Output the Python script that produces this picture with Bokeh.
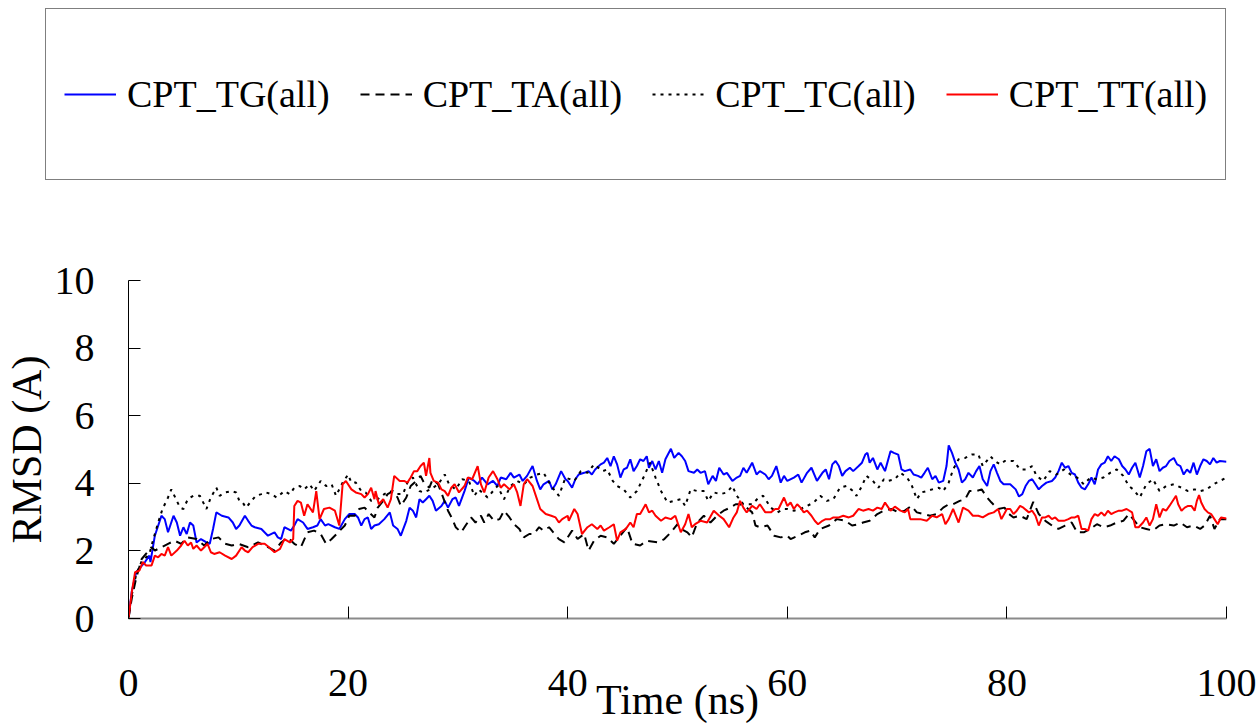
from bokeh.plotting import figure
from bokeh.models import Range1d, FixedTicker, Legend, LegendItem
from bokeh.layouts import column
from bokeh.embed import file_html
from bokeh.resources import INLINE

series_names = ["CPT_TG(all)", "CPT_TA(all)", "CPT_TC(all)", "CPT_TT(all)"]
x_ticks = [0, 20, 40, 60, 80, 100]
y_ticks = [0, 2, 4, 6, 8, 10]
x_title = "Time (ns)"
y_title = "RMSD (A)"

# (time in ns, RMSD in A)
tg_points = [
    (0, 0), (0.3, 0.8), (0.7, 1.37), (1.5, 1.67), (1.9, 1.86), (2.0, 1.67), (2.4, 2.45), (3.0, 3.04), (3.3, 2.94),
    (3.6, 2.55), (4.1, 3.04), (4.4, 2.84), (4.7, 2.45), (5.0, 2.70), (5.3, 2.50), (5.6, 2.84), (5.9, 2.75), (6.2, 2.25),
    (6.6, 2.35), (7.1, 2.25), (7.4, 2.21), (7.7, 2.65), (8.0, 3.14), (8.5, 3.04), (9.1, 2.99), (9.5, 2.84), (9.8, 2.65),
    (10.1, 2.75), (10.6, 3.04), (10.9, 2.89), (11.2, 2.75), (11.5, 2.70), (12.1, 2.65), (12.7, 2.45), (13.3, 2.55),
    (13.6, 2.40), (13.9, 2.35), (14.2, 2.70), (14.5, 2.65), (14.8, 2.60), (15.1, 2.75), (15.4, 2.94), (15.9, 2.84),
    (16.3, 2.65), (16.8, 2.70), (17.2, 2.75), (17.5, 2.94), (17.9, 2.75), (18.2, 2.79), (18.8, 2.70), (19.2, 2.65),
    (19.7, 2.94), (20.1, 3.09), (20.6, 3.09), (20.9, 2.99), (21.2, 2.75), (21.5, 2.94), (21.8, 2.99), (22.1, 2.65),
    (22.4, 2.75), (22.8, 2.79), (23.3, 2.94), (23.8, 3.14), (24.1, 2.75), (24.5, 2.65), (24.8, 2.45), (25.3, 2.89),
    (25.6, 3.28), (25.9, 3.19), (26.2, 2.99), (26.5, 3.53), (26.8, 3.43), (27.1, 3.53), (27.4, 3.63), (27.7, 3.48),
    (28.0, 3.19), (28.5, 3.33), (28.8, 3.48), (29.1, 3.28), (29.5, 3.53), (29.8, 3.58), (30.1, 3.33), (30.6, 3.77),
    (31.0, 4.17), (31.5, 4.07), (31.8, 3.97), (32.2, 4.17), (32.7, 3.97), (33.2, 4.07), (33.6, 3.92), (33.9, 4.17),
    (34.4, 4.12), (34.8, 4.31), (35.1, 4.17), (35.6, 4.26), (35.9, 4.07), (36.3, 4.22), (36.8, 4.51), (37.2, 4.07),
    (37.5, 3.82), (37.8, 3.97), (38.3, 4.07), (38.6, 3.82), (38.9, 3.97), (39.4, 4.36), (39.8, 4.12), (40.0, 4.07),
    (40.4, 3.87), (40.7, 4.12), (41.0, 4.26), (41.5, 4.31), (41.9, 4.36), (42.2, 4.26), (42.5, 4.41), (43.0, 4.56),
    (43.3, 4.61), (43.6, 4.75), (43.9, 4.51), (44.2, 4.80), (44.5, 4.56), (44.8, 4.17), (45.1, 4.41), (45.4, 4.46),
    (45.7, 4.71), (46.0, 4.36), (46.3, 4.51), (46.6, 4.71), (46.9, 4.66), (47.2, 4.80), (47.4, 4.46), (47.7, 4.66),
    (48.0, 4.41), (48.3, 4.66), (48.6, 4.31), (48.9, 4.71), (49.4, 5.02), (49.7, 4.75), (50.1, 4.90), (50.4, 4.80),
    (50.7, 4.66), (51.0, 4.36), (51.5, 4.31), (51.8, 4.41), (52.1, 4.31), (52.5, 4.36), (52.8, 3.97), (53.2, 4.22),
    (53.5, 4.07), (53.8, 4.46), (54.2, 4.26), (54.5, 4.31), (55.0, 4.07), (55.4, 4.17), (55.7, 4.22), (56.0, 4.46),
    (56.3, 4.31), (56.8, 4.61), (57.2, 4.26), (57.5, 4.36), (58.0, 4.26), (58.3, 4.12), (58.6, 4.22), (59.0, 4.51),
    (59.4, 4.02), (59.7, 4.22), (60.0, 4.07), (60.6, 4.17), (61.0, 4.26), (61.3, 4.02), (61.8, 4.31), (62.2, 4.46),
    (62.7, 4.07), (63.2, 4.31), (63.5, 4.41), (63.8, 4.12), (64.1, 4.56), (64.4, 4.66), (64.7, 4.51), (65.0, 4.22),
    (65.3, 4.36), (65.7, 4.46), (66.0, 4.36), (66.5, 4.51), (66.8, 4.61), (67.1, 4.85), (67.3, 4.90), (67.5, 4.61),
    (67.8, 4.75), (68.2, 4.41), (68.5, 4.61), (68.9, 4.36), (69.4, 4.95), (69.7, 4.90), (70.1, 4.85), (70.4, 4.41),
    (70.7, 4.36), (71.2, 4.41), (71.5, 4.26), (71.9, 4.22), (72.2, 4.17), (72.5, 4.31), (72.8, 4.46), (73.2, 4.12),
    (73.5, 4.22), (73.8, 4.02), (74.2, 4.07), (74.5, 4.51), (74.7, 5.12), (75.0, 4.90), (75.3, 4.61), (75.6, 4.41),
    (75.9, 4.02), (76.2, 4.12), (76.5, 4.31), (76.9, 4.17), (77.2, 4.36), (77.5, 4.51), (77.8, 4.12), (78.2, 3.92),
    (78.5, 4.36), (78.8, 4.56), (79.1, 4.31), (79.4, 4.07), (79.7, 3.97), (80.3, 3.97), (80.8, 3.82), (81.1, 3.61),
    (81.4, 3.68), (81.7, 3.92), (82.0, 4.07), (82.3, 4.12), (82.6, 3.97), (82.9, 3.82), (83.2, 3.92), (83.6, 4.02),
    (84.1, 4.07), (84.4, 4.17), (84.7, 4.36), (85.0, 4.61), (85.3, 4.46), (85.6, 4.51), (85.9, 4.31), (86.2, 4.26),
    (86.5, 4.02), (86.8, 3.87), (87.1, 3.82), (87.4, 3.97), (87.7, 4.17), (88.0, 3.97), (88.3, 4.41), (88.6, 4.56),
    (88.9, 4.61), (89.2, 4.80), (89.5, 4.66), (89.8, 4.80), (90.2, 4.71), (90.5, 4.51), (90.8, 4.41), (91.1, 4.26),
    (91.4, 4.46), (91.7, 4.61), (92.1, 4.17), (92.4, 4.51), (92.7, 4.95), (93.0, 5.02), (93.3, 4.51), (93.6, 4.71),
    (93.9, 4.36), (94.2, 4.46), (94.5, 4.51), (94.8, 4.66), (95.2, 4.75), (95.5, 4.56), (95.8, 4.51), (96.1, 4.26),
    (96.4, 4.41), (96.7, 4.31), (97.0, 4.61), (97.3, 4.26), (97.6, 4.51), (97.9, 4.71), (98.2, 4.66), (98.5, 4.56),
    (98.8, 4.75), (99.1, 4.61), (99.4, 4.66), (100.0, 4.64),
]

ta_points = [
    (0, 0), (0.3, 0.6), (0.7, 1.2), (1.2, 1.76), (2.1, 2.11), (2.4, 2.01), (3.6, 2.21), (4.2, 2.30), (4.8, 2.21),
    (5.4, 2.40), (6.2, 2.35), (6.9, 2.16), (7.5, 2.35), (8.2, 2.40), (8.8, 2.21), (9.4, 2.16), (10.0, 2.21),
    (10.9, 2.11), (11.8, 2.25), (12.7, 2.11), (13.3, 2.01), (13.9, 2.25), (14.5, 2.40), (15.1, 2.21), (15.7, 2.11),
    (16.3, 2.55), (16.9, 2.60), (17.5, 2.50), (18.0, 2.21), (18.5, 2.35), (19.1, 2.55), (19.7, 2.75), (20.1, 3.04),
    (20.6, 3.04), (21.0, 3.24), (21.5, 3.28), (21.9, 3.14), (22.4, 2.99), (22.7, 3.28), (23.2, 3.48), (23.6, 3.68),
    (24.1, 3.77), (24.5, 3.58), (24.8, 3.33), (25.3, 3.58), (25.7, 3.92), (26.2, 4.07), (26.6, 4.22), (26.9, 4.02),
    (27.4, 3.87), (27.7, 4.12), (28.2, 3.97), (28.6, 3.63), (29.1, 3.19), (29.5, 2.94), (29.8, 2.70), (30.3, 2.55),
    (30.7, 2.75), (31.2, 2.99), (31.6, 2.84), (32.1, 3.04), (32.4, 2.84), (32.8, 3.09), (33.3, 2.89), (33.8, 2.94),
    (34.2, 3.19), (34.7, 2.99), (35.1, 2.79), (35.6, 2.65), (36.0, 2.40), (36.5, 2.50), (36.9, 2.50), (37.4, 2.70),
    (37.8, 2.60), (38.3, 2.70), (38.8, 2.50), (39.2, 2.35), (39.7, 2.25), (40.4, 2.60), (40.9, 2.35), (41.5, 2.50),
    (41.9, 2.01), (42.4, 2.30), (43.0, 2.45), (43.6, 2.40), (44.2, 2.21), (44.8, 2.45), (45.4, 2.70), (45.9, 2.21),
    (46.6, 2.16), (47.2, 2.30), (48.2, 2.25), (48.8, 2.35), (49.4, 2.55), (50.0, 2.79), (50.3, 2.65), (50.9, 2.55),
    (51.3, 2.40), (51.8, 2.84), (52.4, 3.04), (53.0, 2.84), (53.6, 3.04), (54.2, 3.19), (54.8, 3.28), (55.3, 3.38),
    (55.7, 3.38), (56.3, 3.28), (56.8, 3.14), (57.1, 2.75), (57.5, 2.70), (58.2, 2.75), (58.8, 2.45), (59.4, 2.40),
    (60.0, 2.45), (60.3, 2.35), (61.0, 2.45), (61.6, 2.55), (62.1, 2.60), (62.5, 2.40), (63.0, 2.65), (63.8, 2.75),
    (64.5, 2.94), (65.3, 2.89), (65.9, 2.75), (66.5, 2.79), (66.9, 2.84), (67.5, 2.89), (68.2, 3.09), (68.8, 3.19),
    (69.5, 3.24), (70.1, 3.14), (70.7, 3.19), (71.3, 3.33), (71.8, 3.14), (72.4, 3.09), (73.0, 3.04), (73.6, 3.09),
    (74.2, 3.28), (74.7, 3.38), (75.1, 3.38), (75.7, 3.48), (76.2, 3.53), (76.6, 3.77), (77.2, 3.77), (77.7, 3.82),
    (78.2, 3.58), (78.6, 3.43), (79.2, 3.24), (79.8, 3.28), (80.0, 3.14), (80.6, 2.99), (81.2, 3.04), (81.8, 2.94),
    (82.4, 3.45), (82.9, 3.09), (83.5, 2.89), (84.1, 2.75), (84.7, 2.65), (85.3, 2.75), (85.9, 2.84), (86.4, 2.55),
    (87.0, 2.55), (87.6, 2.65), (88.2, 2.79), (88.8, 2.70), (89.4, 2.75), (90.0, 2.84), (90.6, 2.89), (91.1, 3.09),
    (91.5, 2.94), (92.1, 2.70), (92.7, 2.65), (93.3, 2.60), (93.9, 2.75), (94.5, 2.79), (95.2, 2.75), (95.8, 2.84),
    (96.4, 2.70), (97.0, 2.75), (97.6, 2.65), (98.0, 2.75), (98.5, 3.04), (98.9, 2.65), (99.4, 2.94), (100.0, 2.94),
]

tc_points = [
    (0, 0), (0.3, 0.7), (0.7, 1.3), (1.2, 1.7), (1.9, 1.9), (2.1, 2.16), (2.7, 2.84), (3.1, 3.24), (3.6, 3.58),
    (3.9, 3.82), (4.4, 3.48), (4.7, 3.28), (5.0, 3.24), (5.4, 3.53), (5.9, 3.63), (6.5, 3.63), (7.1, 3.24), (7.5, 3.58),
    (8.0, 3.87), (8.3, 3.63), (8.8, 3.73), (9.4, 3.77), (9.8, 3.73), (10.1, 3.48), (10.4, 3.43), (10.7, 3.28),
    (11.2, 3.48), (11.6, 3.63), (12.1, 3.68), (12.5, 3.73), (13.0, 3.68), (13.5, 3.58), (14.2, 3.77), (14.7, 3.68),
    (15.1, 3.87), (15.6, 3.92), (16.0, 3.82), (16.5, 3.97), (16.9, 3.77), (17.5, 4.07), (18.0, 3.92), (18.5, 3.97),
    (18.9, 3.63), (19.5, 4.02), (20.0, 4.26), (20.3, 4.02), (20.7, 4.02), (21.2, 3.77), (21.6, 3.73), (22.1, 3.48),
    (22.7, 3.53), (23.3, 3.68), (23.8, 3.77), (24.4, 3.68), (25.0, 3.68), (25.4, 4.02), (25.9, 4.17), (26.5, 3.77),
    (26.9, 3.73), (27.5, 3.82), (28.2, 3.97), (28.8, 4.26), (29.2, 3.97), (29.8, 3.82), (30.4, 4.12), (31.0, 4.07),
    (31.5, 3.63), (31.9, 3.82), (32.7, 3.58), (33.2, 3.77), (33.6, 3.92), (34.2, 3.53), (34.8, 3.92), (35.4, 4.07),
    (36.0, 3.97), (36.6, 4.17), (37.2, 4.26), (37.8, 4.31), (38.5, 3.92), (39.2, 3.63), (39.8, 4.17), (40.6, 4.07),
    (41.2, 4.36), (41.8, 4.31), (42.4, 4.56), (43.2, 4.36), (43.6, 4.41), (44.1, 4.07), (44.5, 3.92), (45.1, 3.82),
    (45.7, 3.58), (46.3, 3.77), (46.9, 4.17), (47.5, 4.61), (48.0, 4.17), (48.5, 3.77), (49.1, 3.43), (49.7, 3.48),
    (50.3, 3.53), (50.7, 3.33), (51.2, 3.82), (51.8, 3.77), (52.4, 3.77), (52.8, 3.48), (53.3, 3.73), (53.9, 3.68),
    (54.5, 3.73), (55.0, 3.92), (55.4, 3.63), (56.0, 3.38), (56.8, 3.38), (57.4, 3.58), (57.8, 3.63), (58.5, 3.28),
    (59.1, 3.14), (59.7, 3.24), (60.0, 3.24), (60.6, 3.19), (61.2, 3.24), (61.8, 3.33), (62.4, 3.43), (63.0, 3.63),
    (63.6, 3.48), (64.2, 3.53), (64.8, 3.87), (65.4, 3.92), (66.0, 3.77), (66.3, 3.63), (66.8, 3.92), (67.2, 4.22),
    (67.8, 4.07), (68.3, 3.87), (68.8, 4.12), (69.2, 4.07), (69.8, 4.12), (70.3, 4.31), (70.9, 4.17), (71.3, 3.97),
    (71.8, 3.53), (72.2, 3.73), (72.7, 3.77), (73.2, 3.82), (73.8, 3.87), (74.2, 3.77), (74.7, 4.02), (75.1, 4.41),
    (75.6, 4.71), (76.2, 4.75), (76.8, 4.85), (77.4, 4.85), (77.8, 4.51), (78.5, 4.80), (78.9, 4.66), (79.4, 4.56),
    (79.8, 4.66), (80.0, 4.66), (80.6, 4.66), (81.2, 4.41), (81.8, 4.41), (82.3, 4.51), (82.7, 4.22), (83.3, 4.07),
    (83.9, 4.36), (84.5, 4.26), (85.2, 4.41), (85.8, 4.26), (86.4, 4.17), (87.0, 3.97), (87.6, 4.17), (88.2, 4.12),
    (88.8, 4.17), (89.4, 4.31), (90.0, 4.41), (90.6, 4.22), (91.1, 3.92), (91.5, 3.82), (92.1, 3.58), (92.7, 3.97),
    (93.3, 4.12), (93.9, 3.77), (94.5, 3.92), (95.2, 3.97), (95.9, 3.87), (96.5, 3.77), (97.1, 3.82), (97.6, 3.77),
    (98.2, 3.82), (98.8, 3.97), (99.4, 4.07), (100.0, 4.17),
]

tt_points = [
    (0, 0), (0.3, 0.78), (0.6, 1.37), (1.0, 1.42), (1.3, 1.67), (1.6, 1.57), (2.1, 1.57), (2.4, 1.86), (2.7, 1.81),
    (3.0, 1.91), (3.3, 1.86), (3.6, 2.11), (3.9, 1.86), (4.4, 2.01), (4.8, 2.16), (5.1, 2.30), (5.4, 2.16), (5.7, 2.25),
    (5.9, 2.06), (6.2, 2.16), (6.6, 2.01), (6.9, 2.11), (7.2, 2.21), (7.5, 1.96), (7.8, 1.91), (8.3, 1.96), (8.8, 1.86),
    (9.4, 1.76), (9.8, 1.86), (10.3, 2.11), (10.6, 2.01), (10.9, 1.96), (11.3, 2.11), (11.8, 2.21), (12.4, 2.21),
    (12.8, 2.11), (13.3, 1.96), (13.8, 2.06), (14.2, 2.35), (14.7, 2.25), (15.0, 2.35), (15.1, 3.33), (15.4, 3.48),
    (15.7, 3.43), (16.0, 3.04), (16.3, 3.38), (16.8, 3.14), (17.1, 3.77), (17.4, 2.94), (17.8, 3.24), (18.3, 3.28),
    (18.8, 3.19), (19.2, 2.75), (19.5, 3.97), (19.8, 4.07), (20.3, 3.82), (20.7, 3.73), (21.2, 3.68), (21.5, 3.58),
    (21.8, 3.68), (22.1, 3.87), (22.4, 3.53), (22.5, 3.77), (22.8, 3.38), (23.2, 3.53), (23.6, 3.28), (23.9, 3.53),
    (24.2, 4.22), (24.7, 4.07), (25.1, 4.07), (25.4, 4.02), (25.7, 4.17), (26.0, 4.36), (26.3, 4.36), (26.6, 4.51),
    (26.9, 4.61), (27.1, 4.22), (27.4, 4.75), (27.5, 4.31), (27.8, 4.07), (28.2, 4.02), (28.5, 3.82), (28.8, 3.77),
    (29.1, 3.63), (29.4, 3.87), (29.7, 3.97), (30.1, 3.73), (30.6, 3.92), (30.9, 4.17), (31.3, 4.12), (31.8, 4.51),
    (32.1, 3.97), (32.4, 3.73), (32.8, 4.17), (33.2, 4.36), (33.6, 4.12), (33.9, 3.87), (34.2, 3.97), (34.7, 3.82),
    (35.1, 3.97), (35.4, 3.73), (35.7, 3.33), (36.0, 3.97), (36.3, 4.12), (36.8, 3.92), (37.2, 3.53), (37.5, 3.24),
    (38.0, 3.09), (38.5, 3.04), (38.9, 2.99), (39.2, 2.84), (39.5, 2.94), (40.0, 3.04), (40.1, 2.89), (40.6, 3.24),
    (40.9, 3.09), (41.3, 2.50), (41.8, 2.70), (42.2, 2.79), (42.7, 2.65), (43.0, 2.75), (43.3, 2.60), (43.8, 2.70),
    (44.2, 2.79), (44.5, 2.30), (44.8, 2.55), (45.3, 2.65), (45.7, 2.84), (46.0, 2.70), (46.3, 3.09), (46.6, 3.09),
    (47.1, 3.38), (47.4, 3.14), (47.7, 3.19), (48.0, 3.04), (48.5, 2.89), (48.9, 2.99), (49.4, 2.94), (49.8, 3.04),
    (50.3, 2.55), (50.7, 2.79), (51.0, 3.09), (51.3, 2.70), (51.6, 2.79), (52.1, 2.89), (52.7, 2.84), (53.3, 3.19),
    (53.8, 3.04), (54.2, 2.94), (54.7, 2.70), (55.1, 2.99), (55.4, 3.14), (55.7, 3.48), (56.0, 3.28), (56.3, 3.14),
    (56.8, 3.33), (57.2, 3.24), (57.5, 3.38), (58.0, 3.14), (58.5, 3.14), (58.9, 3.24), (59.2, 3.24), (59.7, 3.58),
    (60.0, 3.33), (60.3, 3.43), (60.6, 3.24), (60.9, 3.38), (61.2, 3.28), (61.5, 3.14), (61.8, 3.19), (62.2, 3.04),
    (62.5, 2.89), (62.8, 2.79), (63.2, 2.89), (63.5, 2.94), (63.9, 2.94), (64.2, 2.99), (64.7, 2.99), (65.1, 3.04),
    (65.6, 2.99), (66.0, 3.04), (66.5, 3.24), (66.9, 3.19), (67.4, 3.24), (67.8, 3.19), (68.2, 3.28), (68.6, 3.24),
    (68.9, 3.43), (69.4, 3.19), (69.8, 3.31), (70.3, 3.19), (70.7, 3.14), (71.0, 3.24), (71.2, 2.94), (71.6, 2.94),
    (72.1, 2.94), (72.7, 2.89), (73.2, 3.04), (73.6, 2.99), (74.1, 3.09), (74.4, 2.79), (74.7, 2.94), (75.1, 3.24),
    (75.6, 2.84), (76.0, 3.28), (76.5, 3.19), (76.9, 3.04), (77.4, 3.04), (77.8, 2.99), (78.3, 3.09), (78.8, 3.14),
    (79.2, 3.24), (79.5, 2.94), (80.0, 3.24), (80.3, 3.24), (80.6, 3.09), (80.9, 3.19), (81.2, 3.33), (81.5, 3.28),
    (82.0, 3.14), (82.3, 3.19), (82.6, 3.04), (82.9, 2.75), (83.2, 2.99), (83.5, 2.99), (83.8, 3.04), (84.1, 2.94),
    (84.4, 2.99), (84.7, 2.89), (85.2, 2.89), (85.6, 2.94), (85.9, 2.99), (86.2, 2.99), (86.5, 3.04), (86.8, 2.65),
    (87.1, 2.65), (87.4, 2.60), (87.7, 2.94), (88.0, 3.09), (88.3, 3.04), (88.6, 3.14), (88.9, 3.04), (89.2, 3.19),
    (89.5, 3.09), (89.8, 3.14), (90.2, 3.19), (90.5, 3.19), (90.9, 3.24), (91.4, 3.14), (91.7, 2.70), (92.0, 2.70),
    (92.4, 2.84), (92.7, 2.99), (93.0, 2.75), (93.3, 2.94), (93.6, 3.38), (93.9, 2.99), (94.2, 3.24), (94.5, 3.19),
    (94.8, 3.33), (95.2, 3.53), (95.4, 3.63), (95.6, 3.38), (95.9, 3.19), (96.2, 3.28), (96.5, 3.33), (96.8, 3.33),
    (97.1, 3.19), (97.3, 3.48), (97.5, 3.65), (97.7, 3.43), (98.0, 3.24), (98.3, 3.14), (98.6, 3.09), (98.9, 2.94),
    (99.2, 2.79), (99.5, 2.99), (100.0, 2.96),
]

FONT = "Liberation Serif"
styles = [("#0000FF", "solid"), ("#000000", "9 6"), ("#000000", "3 5"), ("#FF0000", "solid")]

# ---- main chart -------------------------------------------------------
p = figure(width=1260, height=525, output_backend="svg", toolbar_location=None,
           x_range=Range1d(0, 100), y_range=Range1d(0, 10),
           min_border_left=127, min_border_right=34, min_border_top=80, min_border_bottom=105)
p.frame_align = False
p.outline_line_color = None
p.xgrid.visible = False
p.ygrid.visible = False

for pts, (color, dash) in zip([tg_points, ta_points, tc_points, tt_points], styles):
    t = [a for a, _ in pts]
    v = [b for _, b in pts]
    p.line(t, v, line_color=color, line_width=2, line_dash=dash)

p.xaxis.ticker = FixedTicker(ticks=x_ticks)
p.yaxis.ticker = FixedTicker(ticks=y_ticks)
for ax in (p.xaxis[0], p.yaxis[0]):
    ax.major_tick_in = 12
    ax.major_tick_out = 0
    ax.minor_tick_in = 0
    ax.minor_tick_out = 0
    ax.major_tick_line_color = "black"
    ax.major_label_text_font = FONT
    ax.major_label_text_font_size = "40px"
    ax.major_label_text_color = "black"
    ax.axis_label_text_font = FONT
    ax.axis_label_text_font_size = "42px"
    ax.axis_label_text_font_style = "normal"
    ax.axis_label_text_color = "black"
p.xaxis.axis_line_color = "#8a8a8a"
p.xaxis.axis_line_width = 2
p.yaxis.axis_line_color = "black"
p.xaxis.major_label_standoff = 51
p.yaxis.major_label_standoff = 34
p.yaxis.axis_label = y_title
p.yaxis.axis_label_standoff = 2
p.xaxis.axis_label = x_title
p.xaxis.axis_label_standoff = -22

# ---- legend panel above the chart ----------------------------------------
top = figure(width=1260, height=200, output_backend="svg", toolbar_location=None,
             x_axis_type=None, y_axis_type=None, x_range=Range1d(0, 1), y_range=Range1d(0, 1),
             min_border_left=0, min_border_right=0, min_border_top=0, min_border_bottom=0)
top.frame_align = False
top.outline_line_color = None
top.xgrid.visible = False
top.ygrid.visible = False
nan = float("nan")
proxies = [top.line(x=[nan], y=[nan], line_color=c, line_width=2, line_dash=d) for c, d in styles]

legend = Legend(items=[LegendItem(label=n, renderers=[r]) for n, r in zip(series_names, proxies)],
                location=(45, 20), orientation="horizontal", margin=0, padding=18,
                spacing=30, glyph_width=52, glyph_height=134, label_height=134, label_standoff=11,
                label_text_font=FONT, label_text_font_size="38px", label_text_color="black",
                border_line_color="black", border_line_width=1, background_fill_color="white",
                background_fill_alpha=1.0)
top.add_layout(legend)

layout = column(top, p, spacing=0)
open("out.html", "w").write(file_html(layout, INLINE))
